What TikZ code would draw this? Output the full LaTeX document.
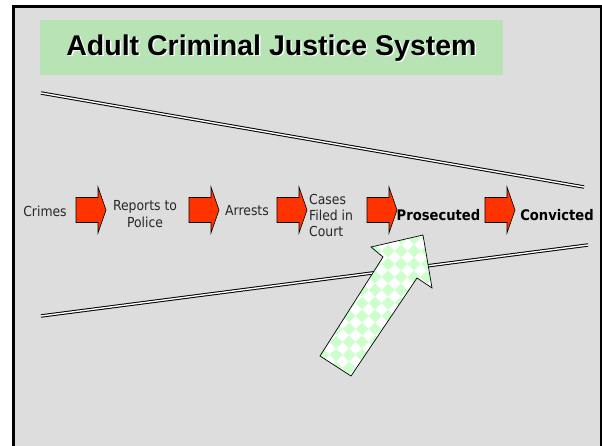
\documentclass[tikz,border=0pt]{standalone}
\usepackage{fontspec}
\setmainfont{DejaVu Sans Condensed}
\newfontfamily\titlefont{Liberation Sans}
\definecolor{bggray}{HTML}{DDDDDD}
\definecolor{titlegreen}{RGB}{183,227,181}
\definecolor{arrowred}{HTML}{FF3300}
\definecolor{checkgreen}{HTML}{CCFFCC}
\tikzset{
  dblline/.style={double=white, double distance=1.4pt, line width=1pt},
  lbl/.style={inner sep=0pt, font=\fontsize{13.8}{17.5}\selectfont, text=black!85},
  boldlbl/.style={inner sep=0pt, font=\fontsize{14.6}{17}\selectfont\bfseries},
  redarrow/.pic={\draw[fill=arrowred, draw=black, line width=0.6pt, line join=miter]
     (0,-12.5) -- (22,-12.5) -- (22,-23) -- (30,0) -- (22,23) -- (22,12.5) -- (0,12.5) -- cycle;}
}
\begin{document}
\begin{tikzpicture}[x=1pt,y=-1pt]
\useasboundingbox (0,0) rectangle (602,446);
\clip (0,0) rectangle (602,446);
% frame
\fill[white] (0,0) rectangle (602,446);
\draw[fill=bggray, line width=3pt] (13.5,6.5) rectangle (601.5,470);
% title
\fill[titlegreen] (40,20) rectangle (503,75);
\node[anchor=base, inner sep=0pt, text=white, font=\titlefont\fontsize{28.5}{30}\selectfont\bfseries] at (273,57) {Adult Criminal Justice System};
\node[anchor=base, inner sep=0pt, text=black, font=\titlefont\fontsize{28.5}{30}\selectfont\bfseries] (title) at (271.5,55.5) {Adult Criminal Justice System};
% funnel lines
\coordinate (u1) at (41,93);
\coordinate (u2) at (584,187);
\coordinate (l1) at (41,316);
\coordinate (l2) at (588,245);
\draw[dblline] (u1) -- (u2);
\draw[dblline] (l1) -- (l2);
% red arrows
\pic at (76,210) {redarrow};
\pic at (189,210) {redarrow};
\pic at (277,210) {redarrow};
\pic at (367,210) {redarrow};
\pic at (485,210) {redarrow};
% labels
\node[lbl] (crimes) at (45,211) {Crimes};
\node[lbl, align=center] (reports) at (145,214) {Reports to\\Police};
\node[lbl] (arrests) at (247,211) {Arrests};
\node[lbl, align=left, anchor=west, font=\fontsize{13.8}{16}\selectfont] (cases) at (309,215) {Cases\\Filed in\\Court};
\node[boldlbl] (prosecuted) at (438.5,215) {Prosecuted};
\node[boldlbl] (convicted) at (557,215) {Convicted};
% big checkered arrow
\begin{scope}
\clip (320,356) -- (383,257) -- (371,247) -- (423,235) -- (432,288) -- (417,278) -- (351,376) -- cycle;
\fill[white] (300,220) rectangle (450,390);
\foreach \a in {0,...,12} {
  \foreach \b in {0,...,13} {
    \fill[checkgreen] (310+13*\a,225+13*\b) ++(6.5,0) -- ++(-6.5,6.5) -- ++(-6.5,-6.5) -- ++(6.5,-6.5) -- cycle;
  }
}
\end{scope}
\draw[line width=0.7pt, line join=miter] (320,356) -- (383,257) -- (371,247) -- (423,235) -- (432,288) -- (417,278) -- (351,376) -- cycle;
\end{tikzpicture}
\end{document}
